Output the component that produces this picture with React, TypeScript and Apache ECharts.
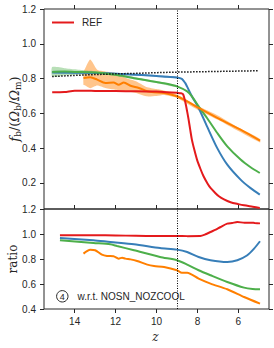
import React, { useEffect, useRef } from "react";
import * as echarts from "echarts";

// ---------- data: top panel f_b/(Ω_b/Ω_m) ----------
const redTopZ = [15.1, 14.5, 14, 13.5, 13, 12, 11, 10, 9.5, 9, 8.8, 8.7, 8.6, 8.5, 8.43, 8.35, 8.27, 8.15, 8.02, 7.85, 7.7, 7.5, 7.36, 7.15, 6.95, 6.7, 6.38, 6.0, 5.72, 5.3, 4.95];
const redTopV = [0.722, 0.723, 0.73, 0.73, 0.729, 0.728, 0.727, 0.725, 0.722, 0.718, 0.716, 0.71, 0.669, 0.61, 0.564, 0.505, 0.449, 0.39, 0.334, 0.28, 0.238, 0.195, 0.171, 0.145, 0.123, 0.105, 0.089, 0.078, 0.071, 0.063, 0.056];

const blueTopZ = [15.1, 14, 13, 12, 11, 10, 9.5, 9, 8.76, 8.6, 8.51, 8.27, 7.94, 7.53, 7.03, 6.54, 5.89, 5.4, 4.95];
const blueTopV = [0.836, 0.834, 0.832, 0.828, 0.822, 0.815, 0.81, 0.806, 0.798, 0.775, 0.755, 0.698, 0.631, 0.525, 0.4, 0.305, 0.219, 0.17, 0.133];

const greenTopZ = [15.1, 14.5, 14, 13, 12, 11.5, 11, 10.5, 10, 9.5, 9, 8.5, 8.27, 7.94, 7.53, 7.03, 6.54, 5.89, 5.4, 4.95];
const greenTopV = [0.838, 0.84, 0.838, 0.835, 0.822, 0.812, 0.8, 0.79, 0.78, 0.77, 0.755, 0.726, 0.698, 0.64, 0.573, 0.487, 0.41, 0.334, 0.29, 0.257];

const orangeTopZ = [13.57, 13.24, 12.9, 12.5, 12.1, 11.85, 11.6, 11.27, 10.86, 10.45, 10.12, 9.63, 9.0, 8.5, 7.94, 7.03, 5.89, 4.94];
const orangeTopV = [0.803, 0.807, 0.794, 0.775, 0.778, 0.765, 0.778, 0.759, 0.746, 0.727, 0.721, 0.717, 0.698, 0.669, 0.631, 0.574, 0.506, 0.443];

// scatter bands
const orangeBandZ = [13.57, 13.5, 13.24, 12.9, 12.5, 12, 11.5, 11, 10.5, 10, 9.6, 9, 8, 7, 6, 4.94];
const orangeBandLo = [0.765, 0.762, 0.745, 0.76, 0.746, 0.736, 0.727, 0.717, 0.698, 0.7, 0.705, 0.688, 0.621, 0.563, 0.498, 0.433];
const orangeBandHi = [0.84, 0.855, 0.909, 0.851, 0.841, 0.832, 0.803, 0.784, 0.752, 0.74, 0.73, 0.708, 0.643, 0.587, 0.518, 0.453];

const greenBandZ = [15.1, 14.5, 14, 13.5, 13, 12, 11, 10, 9];
const greenBandLo = [0.812, 0.818, 0.822, 0.824, 0.826, 0.815, 0.794, 0.775, 0.75];
const greenBandHi = [0.866, 0.86, 0.853, 0.847, 0.844, 0.83, 0.806, 0.785, 0.76];

const blueBandZ = [15.1, 14, 13, 12, 11, 10, 9];
const blueBandLo = [0.828, 0.828, 0.826, 0.822, 0.816, 0.81, 0.801];
const blueBandHi = [0.844, 0.84, 0.838, 0.834, 0.828, 0.82, 0.811];

const dottedZ = [15.1, 14, 13, 12, 11, 10, 9, 8, 7, 6, 5.0];
const dottedV = [0.812, 0.818, 0.823, 0.827, 0.83, 0.834, 0.837, 0.839, 0.841, 0.843, 0.845];

// ---------- data: bottom panel ratio ----------
const redBotZ = [14.72, 13, 12, 11, 10, 9, 8.5, 7.86, 7.6, 7.36, 7.1, 6.87, 6.54, 6.3, 6.05, 5.7, 5.4, 5.2, 4.94];
const redBotV = [0.99, 0.99, 0.988, 0.986, 0.984, 0.984, 0.983, 0.984, 0.998, 1.016, 1.035, 1.056, 1.083, 1.088, 1.096, 1.09, 1.091, 1.088, 1.085];

const blueBotZ = [14.72, 13.08, 12.26, 11.1, 9.83, 9.0, 8.5, 7.94, 7.36, 6.54, 6.05, 5.56, 5.23, 4.94];
const blueBotV = [0.968, 0.95, 0.936, 0.918, 0.888, 0.875, 0.856, 0.816, 0.79, 0.776, 0.79, 0.83, 0.883, 0.942];

const greenBotZ = [14.72, 13.08, 12.26, 11.93, 11.1, 9.83, 9.0, 8.5, 7.94, 7.36, 6.54, 5.72, 5.3, 4.94];
const greenBotV = [0.95, 0.928, 0.918, 0.904, 0.87, 0.816, 0.79, 0.755, 0.71, 0.67, 0.616, 0.571, 0.56, 0.558];

const orangeBotZ = [13.57, 13.24, 13.0, 12.67, 12.42, 12.1, 11.85, 11.68, 11.52, 11.27, 10.95, 10.45, 10.12, 9.63, 9.0, 8.76, 8.5, 7.94, 7.36, 6.54, 5.72, 4.94];
const orangeBotV = [0.843, 0.875, 0.87, 0.835, 0.824, 0.822, 0.803, 0.811, 0.803, 0.797, 0.784, 0.755, 0.744, 0.736, 0.71, 0.69, 0.69, 0.643, 0.603, 0.558, 0.496, 0.443];

// ---------- axes ----------
const zTicks = [6, 8, 10, 12, 14];
const topYTicks = [0.2, 0.4, 0.6, 0.8, 1.0, 1.2];
const botYTicks = [0.4, 0.6, 0.8, 1.0, 1.2];
const zMarker = 9;

const RED = "#e41a1c";
const BLUE = "#377eb8";
const GREEN = "#4daf4a";
const ORANGE = "#ff7f00";
const INK = "#262626";
const SANS = "Liberation Sans";
const SERIF = "DejaVu Serif";

const pairs = (z: number[], v: number[]) => z.map((zz, i) => [zz, v[i]]);

function lineSeries(z: number[], v: number[], color: string, grid: number, extra: any = {}) {
  return {
    type: "line",
    xAxisIndex: grid === 0 ? 0 : 2,
    yAxisIndex: grid === 0 ? 0 : 2,
    data: pairs(z, v),
    symbol: "none",
    smooth: 0.25,
    lineStyle: { color, width: 2 },
    silent: true,
    ...extra,
  };
}

function bandSeries(z: number[], lo: number[], hi: number[], color: string, opacity: number) {
  return {
    type: "custom",
    xAxisIndex: 0,
    yAxisIndex: 0,
    data: z.map((zz, i) => [zz, lo[i], hi[i]]),
    silent: true,
    renderItem: (params: any, api: any) => {
      if (params.dataIndex !== 0) return null;
      const pts: number[][] = [];
      for (let i = 0; i < z.length; i++) pts.push(api.coord([z[i], hi[i]]));
      for (let i = z.length - 1; i >= 0; i--) pts.push(api.coord([z[i], lo[i]]));
      return {
        type: "polygon",
        shape: { points: pts, smooth: 0.2 },
        style: { fill: color, opacity },
      };
    },
  };
}

const vMark = {
  silent: true,
  symbol: ["none", "none"],
  label: { show: false },
  lineStyle: { type: [1, 1.5], color: "#000", width: 1 },
  data: [{ xAxis: zMarker }],
};

const tickStyle = { lineStyle: { color: INK, width: 1 } };

function xAx(gridIndex: number, position: string, labels: boolean) {
  return {
    type: "value",
    gridIndex,
    position,
    min: 4.5,
    max: 15.5,
    inverse: true,
    axisLine: { show: false },
    axisTick: { show: true, inside: false, length: 4, customValues: zTicks, ...tickStyle },
    axisLabel: {
      show: labels,
      customValues: zTicks,
      margin: 7,
      fontFamily: SANS,
      fontSize: 10,
      color: INK,
    },
    splitLine: { show: false },
  };
}

function yAx(gridIndex: number, position: string, min: number, max: number, ticks: number[], labels: boolean) {
  return {
    type: "value",
    gridIndex,
    position,
    min,
    max,
    axisLine: { show: false },
    axisTick: { show: true, inside: false, length: 4, customValues: ticks, ...tickStyle },
    axisLabel: {
      show: labels,
      customValues: ticks,
      margin: 8,
      fontFamily: SANS,
      fontSize: 10,
      color: INK,
      formatter: (v: number) => v.toFixed(1),
    },
    splitLine: { show: false },
  };
}

const option: any = {
  animation: false,
  backgroundColor: "#ffffff",
  grid: [
    { left: 44, top: 9, width: 225, height: 200, show: true, borderColor: INK, borderWidth: 1, backgroundColor: "transparent" },
    { left: 44, top: 209, width: 225, height: 100, show: true, borderColor: INK, borderWidth: 1, backgroundColor: "transparent" },
  ],
  xAxis: [xAx(0, "top", false), xAx(1, "top", false), xAx(1, "bottom", true)],
  yAxis: [
    yAx(0, "left", 0.05, 1.2, topYTicks, true),
    yAx(0, "right", 0.05, 1.2, topYTicks, false),
    yAx(1, "left", 0.4, 1.2, botYTicks, true),
    yAx(1, "right", 0.4, 1.2, botYTicks, false),
  ],
  series: [
    bandSeries(orangeBandZ, orangeBandLo, orangeBandHi, ORANGE, 0.45),
    bandSeries(greenBandZ, greenBandLo, greenBandHi, GREEN, 0.4),
    bandSeries(blueBandZ, blueBandLo, blueBandHi, BLUE, 0.4),
    lineSeries(blueTopZ, blueTopV, BLUE, 0),
    lineSeries(greenTopZ, greenTopV, GREEN, 0),
    lineSeries(orangeTopZ, orangeTopV, ORANGE, 0),
    lineSeries(redTopZ, redTopV, RED, 0, { name: "REF", markLine: vMark }),
    lineSeries(dottedZ, dottedV, "#111", 0, { lineStyle: { color: "#111", width: 1.5, type: [1.5, 1.5] }, smooth: false }),
    lineSeries(blueBotZ, blueBotV, BLUE, 1),
    lineSeries(greenBotZ, greenBotV, GREEN, 1),
    lineSeries(orangeBotZ, orangeBotV, ORANGE, 1),
    lineSeries(redBotZ, redBotV, RED, 1, { markLine: vMark }),
  ],
  graphic: [
    { type: "line", shape: { x1: 52, y1: 22.5, x2: 74, y2: 22.5 }, style: { stroke: RED, lineWidth: 2 } },
    { type: "text", x: 82, y: 22.5, style: { text: "REF", fontFamily: SANS, fontSize: 10, fill: INK, verticalAlign: "middle", align: "left" } },
    { type: "circle", shape: { cx: 62.3, cy: 296.3, r: 5.7 }, style: { fill: "none", stroke: INK, lineWidth: 1 } },
    { type: "text", x: 62.3, y: 296.5, style: { text: "4", fontFamily: SANS, fontSize: 9, fill: INK, align: "center", verticalAlign: "middle" } },
    { type: "text", x: 77.5, y: 296.5, style: { text: "w.r.t. NOSN_NOZCOOL", fontFamily: SANS, fontSize: 10, fill: INK, align: "left", verticalAlign: "middle" } },
    {
      type: "text",
      x: 14,
      y: 109,
      rotation: Math.PI / 2,
      style: {
        text: "{i|f}{s|b}{n|/(}{i|Ω}{s|b}{n|/}{i|Ω}{s|m}{n|)}",
        align: "center",
        verticalAlign: "middle",
        fill: INK,
        rich: {
          i: { fontFamily: SERIF, fontStyle: "italic", fontSize: 13, lineHeight: 16, fill: INK },
          n: { fontFamily: SERIF, fontSize: 13, lineHeight: 16, fill: INK },
          s: { fontFamily: SERIF, fontSize: 9, lineHeight: 9, verticalAlign: "bottom", fill: INK },
        },
      },
    },
    { type: "text", x: 12.5, y: 259, rotation: Math.PI / 2, style: { text: "ratio", fontFamily: SERIF, fontSize: 12, fill: INK, align: "center", verticalAlign: "middle" } },
    { type: "text", x: 155.5, y: 337, style: { text: "z", fontFamily: SERIF, fontStyle: "italic", fontSize: 12, fill: INK, align: "center", verticalAlign: "middle" } },
  ],
};

export default function App() {
  const ref = useRef<HTMLDivElement>(null);
  useEffect(() => {
    document.body.style.margin = "0";
    const chart = echarts.init(ref.current as HTMLDivElement, null, { renderer: "svg" });
    chart.setOption(option);
    return () => chart.dispose();
  }, []);
  return <div ref={ref} style={{ position: "fixed", left: 0, top: 0, width: 274, height: 348 }} />;
}
